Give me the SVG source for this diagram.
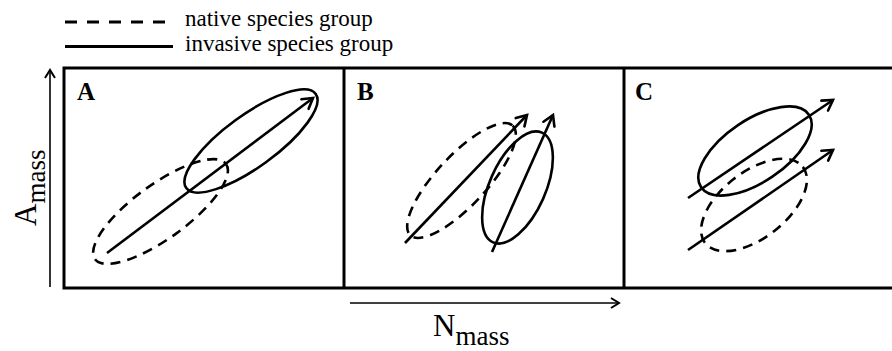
<svg xmlns="http://www.w3.org/2000/svg" width="892" height="351" viewBox="0 0 892 351">
<style>
.t{font-family:'Liberation Serif','DejaVu Serif',serif;fill:#000}
.leg{font-size:23px}
.pl{font-size:25px;font-weight:bold}
.ax{font-size:31px}
.sub{font-size:27px}
.sol{fill:none;stroke:#000;stroke-width:2.6}
.dash{fill:none;stroke:#000;stroke-width:2.6;stroke-dasharray:10 7}
.arr{fill:none;stroke:#000;stroke-width:2.6;marker-end:url(#ah)}
.axl{fill:none;stroke:#000;stroke-width:1.6;marker-end:url(#ah2)}
.frame{fill:none;stroke:#000;stroke-width:3}
</style>
<defs>
<marker id="ah" markerUnits="userSpaceOnUse" markerWidth="16" markerHeight="16" refX="12" refY="7" orient="auto" viewBox="0 0 16 14">
<path d="M2,1 L12,7 L2,13" fill="none" stroke="#000" stroke-width="2.6" stroke-linecap="round"/>
</marker>
<marker id="ah2" markerUnits="userSpaceOnUse" markerWidth="14" markerHeight="14" refX="11" refY="6" orient="auto" viewBox="0 0 14 12">
<path d="M3,1 L11,6 L3,11" fill="none" stroke="#000" stroke-width="2"/>
</marker>
</defs>
<g id="legend">
<line x1="65" y1="22" x2="173" y2="22" stroke="#000" stroke-width="3" stroke-dasharray="12 10"/>
<text class="t leg" font-family="Liberation Serif, serif" x="185" y="26">native species group</text>
<line x1="65" y1="46.5" x2="173" y2="46.5" stroke="#000" stroke-width="3"/>
<text class="t leg" font-family="Liberation Serif, serif" x="185" y="51">invasive species group</text>
</g>
<g id="frame">
<path class="frame" d="M893,68 H64 V288 H893 M344,68 V288 M624,68 V288"/>
</g>
<g id="axes">
<line class="axl" x1="50" y1="287" x2="50" y2="70"/>
<line class="axl" x1="350" y1="303" x2="619" y2="303"/>
<text class="t ax" font-family="Liberation Serif, serif" transform="translate(36,226) rotate(-90)">A<tspan class="sub" dy="9">mass</tspan></text>
<text class="t ax" font-family="Liberation Serif, serif" x="433" y="336">N<tspan class="sub" dy="9">mass</tspan></text>
</g>
<g id="panelA">
<text class="t pl" font-family="Liberation Serif, serif" x="77" y="100">A</text>
<ellipse class="dash" cx="160.5" cy="211.5" rx="81" ry="27" transform="rotate(-36 160.5 211.5)"/>
<ellipse class="sol" cx="251" cy="141" rx="80" ry="26" transform="rotate(-36 251 141)"/>
</g>
<g id="panelB">
<text class="t pl" font-family="Liberation Serif, serif" x="357" y="100">B</text>
<ellipse class="dash" cx="461.5" cy="180.5" rx="75" ry="25" transform="rotate(-47 461.5 180.5)"/>
<ellipse class="sol" cx="517.5" cy="187.5" rx="60" ry="28" transform="rotate(-66 517.5 187.5)"/>
</g>
<g id="panelC">
<text class="t pl" font-family="Liberation Serif, serif" x="635" y="100">C</text>
<ellipse class="sol" cx="755" cy="151" rx="65" ry="31" transform="rotate(-34 755 151)"/>
<ellipse class="dash" cx="754" cy="205" rx="62" ry="33" transform="rotate(-38 754 205)"/>
</g>
<g id="connectors">
<line class="arr" x1="107" y1="253" x2="313" y2="98"/>
<line class="arr" x1="405" y1="243" x2="527" y2="115"/>
<line class="arr" x1="492" y1="252" x2="553" y2="115"/>
<line class="arr" x1="688" y1="198" x2="833" y2="100"/>
<line class="arr" x1="688" y1="250" x2="833" y2="150"/>
</g>
</svg>
